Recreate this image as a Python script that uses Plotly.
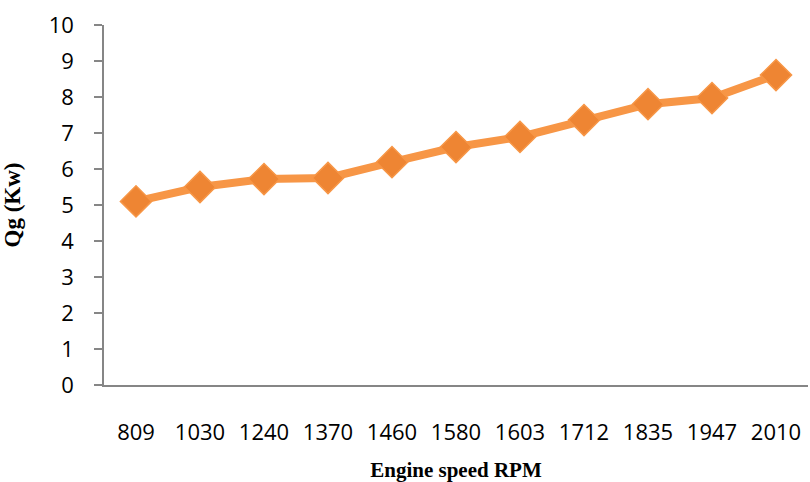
import plotly.graph_objects as go

rpm = ["809", "1030", "1240", "1370", "1460", "1580", "1603", "1712", "1835", "1947", "2010"]
qg = [5.1, 5.5, 5.72, 5.75, 6.19, 6.61, 6.89, 7.36, 7.8, 7.97, 8.61]
y_ticks = list(range(0, 11))

fig = go.Figure()
fig.add_trace(go.Scatter(
    x=rpm, y=qg, mode="lines+markers",
    line=dict(color="#F79646", width=8),
    marker=dict(symbol="diamond", size=24, color="#EE8533",
                line=dict(color="#F79646", width=1.5)),
    showlegend=False, cliponaxis=False,
))

fig.update_layout(
    width=810, height=482,
    margin=dict(l=104, r=2, t=25, b=97),
    paper_bgcolor="white", plot_bgcolor="white",
    xaxis=dict(
        type="category", range=[-0.5, len(rpm) - 0.5],
        showgrid=False, zeroline=False, automargin=False,
        showline=True, linecolor="#868686", linewidth=1.5,
        ticks="", ticklabelstandoff=27,
        tickfont=dict(family="Open Sans, Noto Sans, sans-serif", size=22, color="black"),
        title=dict(text="<b>Engine speed RPM</b>", standoff=18,
                   font=dict(family="Liberation Serif, Times New Roman, serif", size=21, color="black")),
    ),
    yaxis=dict(
        range=[0, 10], tickvals=y_ticks, showgrid=False, zeroline=False, automargin=False,
        showline=True, linecolor="#868686", linewidth=1.5,
        ticks="outside", ticklen=8, tickcolor="#868686", tickwidth=1.5,
        ticklabelstandoff=16,
        tickfont=dict(family="Open Sans, Noto Sans, sans-serif", size=22, color="black"),
        title=dict(text="<b>Qg (Kw)</b>", standoff=22,
                   font=dict(family="Liberation Serif, Times New Roman, serif", size=23, color="black")),
    ),
)

fig.write_html("out.html", config={"displayModeBar": False},
               post_script="document.body.style.margin='0px';")
